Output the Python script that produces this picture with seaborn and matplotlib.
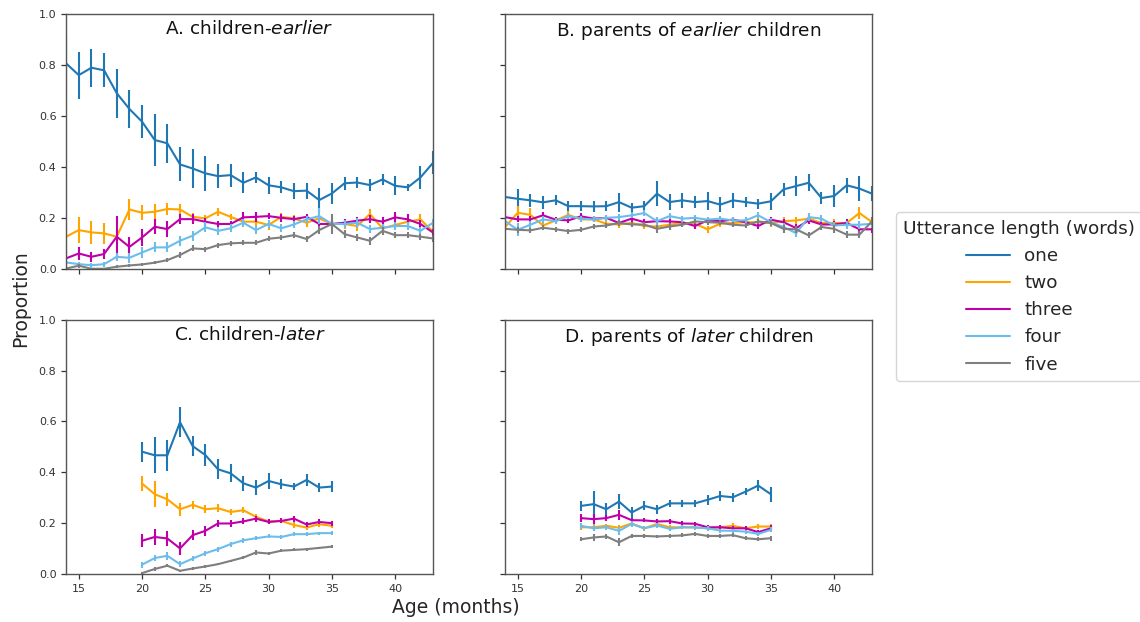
import numpy as np
import pandas as pd
import matplotlib
matplotlib.use("Agg")
import matplotlib.pyplot as plt
from matplotlib.lines import Line2D
import seaborn as sns

# ---- data -------------------------------------------------------------
lengths = ["one", "two", "three", "four", "five"]
palette = {"one": "#1f77b4", "two": "#ffa500", "three": "#bf00a8",
           "four": "#6cbdec", "five": "#7f7f7f"}

ages_early = list(range(14, 44))   # panels A and B
ages_late = list(range(20, 36))    # panels C and D

# A. children-earlier
a_one = [0.807, 0.761, 0.790, 0.780, 0.690, 0.628, 0.578, 0.506, 0.493, 0.410,
         0.394, 0.375, 0.364, 0.368, 0.338, 0.359, 0.328, 0.320, 0.305, 0.307,
         0.270, 0.296, 0.336, 0.339, 0.329, 0.351, 0.326, 0.320, 0.359, 0.417]
a_one_err = [0.105, 0.092, 0.075, 0.067, 0.096, 0.075, 0.064, 0.104, 0.077, 0.067,
             0.075, 0.069, 0.047, 0.045, 0.042, 0.023, 0.033, 0.023, 0.031, 0.031,
             0.046, 0.041, 0.026, 0.023, 0.023, 0.023, 0.038, 0.013, 0.046, 0.045]
a_two = [0.126, 0.152, 0.143, 0.139, 0.126, 0.233, 0.220, 0.224, 0.235, 0.233,
         0.204, 0.198, 0.224, 0.204, 0.185, 0.185, 0.172, 0.204, 0.198, 0.181,
         0.198, 0.176, 0.176, 0.168, 0.215, 0.159, 0.172, 0.185, 0.194, 0.145]
a_two_err = [0.070, 0.050, 0.045, 0.040, 0.015, 0.040, 0.030, 0.030, 0.022, 0.020,
             0.015, 0.012, 0.015, 0.012, 0.012, 0.015, 0.020, 0.015, 0.015, 0.015,
             0.012, 0.015, 0.020, 0.020, 0.020, 0.020, 0.020, 0.015, 0.020, 0.020]
a_three = [0.041, 0.060, 0.047, 0.058, 0.126, 0.086, 0.123, 0.165, 0.156, 0.195,
           0.195, 0.185, 0.176, 0.176, 0.202, 0.204, 0.207, 0.200, 0.195, 0.204,
           0.176, 0.176, 0.181, 0.189, 0.195, 0.185, 0.202, 0.194, 0.176, 0.142]
a_three_err = [0.030, 0.025, 0.020, 0.020, 0.080, 0.040, 0.035, 0.030, 0.030, 0.020,
               0.020, 0.015, 0.012, 0.012, 0.020, 0.020, 0.012, 0.015, 0.012, 0.012,
               0.010, 0.012, 0.015, 0.015, 0.015, 0.020, 0.020, 0.020, 0.015, 0.015]
a_four = [0.025, 0.018, 0.014, 0.018, 0.047, 0.043, 0.064, 0.084, 0.084, 0.110,
          0.130, 0.163, 0.149, 0.159, 0.181, 0.152, 0.176, 0.159, 0.174, 0.194,
          0.207, 0.176, 0.176, 0.181, 0.156, 0.161, 0.168, 0.168, 0.149, 0.181]
a_four_err = [0.012, 0.010, 0.010, 0.010, 0.015, 0.020, 0.020, 0.020, 0.020, 0.020,
              0.020, 0.020, 0.015, 0.015, 0.015, 0.015, 0.015, 0.015, 0.015, 0.015,
              0.030, 0.020, 0.015, 0.020, 0.015, 0.015, 0.015, 0.015, 0.015, 0.015]
a_five = [0.001, 0.012, 0.000, 0.000, 0.008, 0.013, 0.017, 0.024, 0.034, 0.054,
          0.080, 0.077, 0.093, 0.100, 0.102, 0.102, 0.118, 0.123, 0.132, 0.117,
          0.152, 0.176, 0.136, 0.123, 0.110, 0.149, 0.132, 0.132, 0.126, 0.119]
a_five_err = [0.005, 0.008, 0.004, 0.004, 0.005, 0.006, 0.006, 0.007, 0.008, 0.010,
              0.012, 0.010, 0.010, 0.010, 0.010, 0.010, 0.010, 0.010, 0.012, 0.010,
              0.015, 0.040, 0.015, 0.012, 0.015, 0.015, 0.012, 0.012, 0.012, 0.012]

# B. parents of earlier children
b_one = [0.282, 0.275, 0.269, 0.261, 0.269, 0.246, 0.246, 0.245, 0.246, 0.262,
         0.240, 0.246, 0.295, 0.262, 0.269, 0.262, 0.266, 0.252, 0.269, 0.262,
         0.256, 0.265, 0.312, 0.325, 0.338, 0.278, 0.286, 0.328, 0.315, 0.295]
b_one_err = [0.030, 0.037, 0.025, 0.025, 0.020, 0.020, 0.020, 0.020, 0.020, 0.037,
             0.020, 0.020, 0.050, 0.030, 0.030, 0.025, 0.034, 0.030, 0.030, 0.020,
             0.020, 0.034, 0.025, 0.040, 0.033, 0.025, 0.043, 0.030, 0.050, 0.030]
b_two = [0.164, 0.220, 0.212, 0.170, 0.190, 0.212, 0.194, 0.194, 0.177, 0.174,
         0.180, 0.168, 0.166, 0.173, 0.180, 0.177, 0.155, 0.177, 0.180, 0.183,
         0.183, 0.180, 0.187, 0.190, 0.197, 0.180, 0.180, 0.180, 0.219, 0.183]
b_two_err = [0.025, 0.025, 0.025, 0.015, 0.015, 0.015, 0.012, 0.012, 0.012, 0.015,
             0.012, 0.012, 0.012, 0.012, 0.012, 0.012, 0.015, 0.012, 0.015, 0.012,
             0.015, 0.015, 0.015, 0.015, 0.015, 0.015, 0.015, 0.015, 0.025, 0.020]
b_three = [0.203, 0.194, 0.194, 0.210, 0.193, 0.190, 0.206, 0.197, 0.200, 0.180,
           0.197, 0.183, 0.187, 0.186, 0.183, 0.168, 0.190, 0.187, 0.193, 0.183,
           0.168, 0.193, 0.183, 0.160, 0.190, 0.174, 0.174, 0.180, 0.155, 0.155]
b_three_err = [0.015, 0.012, 0.012, 0.012, 0.012, 0.012, 0.012, 0.012, 0.012, 0.012,
               0.012, 0.012, 0.015, 0.012, 0.012, 0.012, 0.012, 0.012, 0.012, 0.012,
               0.012, 0.012, 0.012, 0.015, 0.015, 0.012, 0.012, 0.015, 0.015, 0.015]
b_four = [0.187, 0.153, 0.173, 0.194, 0.187, 0.206, 0.197, 0.194, 0.200, 0.203,
          0.210, 0.219, 0.187, 0.207, 0.197, 0.200, 0.193, 0.197, 0.190, 0.190,
          0.210, 0.183, 0.164, 0.140, 0.203, 0.197, 0.170, 0.173, 0.173, 0.177]
b_four_err = [0.020, 0.025, 0.015, 0.015, 0.012, 0.012, 0.012, 0.012, 0.012, 0.012,
              0.012, 0.012, 0.015, 0.012, 0.012, 0.012, 0.012, 0.012, 0.012, 0.012,
              0.012, 0.015, 0.015, 0.015, 0.015, 0.015, 0.015, 0.015, 0.015, 0.015]
b_five = [0.157, 0.153, 0.151, 0.161, 0.155, 0.148, 0.153, 0.166, 0.170, 0.180,
          0.174, 0.174, 0.157, 0.166, 0.173, 0.186, 0.183, 0.181, 0.173, 0.170,
          0.186, 0.180, 0.157, 0.155, 0.131, 0.164, 0.157, 0.134, 0.134, 0.187]
b_five_err = [0.010, 0.012, 0.010, 0.010, 0.010, 0.010, 0.010, 0.010, 0.010, 0.012,
              0.010, 0.010, 0.015, 0.012, 0.010, 0.010, 0.010, 0.010, 0.010, 0.010,
              0.010, 0.012, 0.015, 0.015, 0.012, 0.012, 0.015, 0.015, 0.015, 0.015]

# C. children-later
c_one = [0.481, 0.467, 0.467, 0.597, 0.503, 0.468, 0.412, 0.396,
         0.357, 0.340, 0.366, 0.353, 0.344, 0.370, 0.340, 0.344]
c_one_err = [0.040, 0.070, 0.060, 0.060, 0.040, 0.045, 0.040, 0.035,
             0.030, 0.030, 0.030, 0.020, 0.015, 0.025, 0.018, 0.022]
c_two = [0.356, 0.314, 0.294, 0.255, 0.272, 0.255, 0.259, 0.244,
         0.251, 0.225, 0.207, 0.209, 0.193, 0.183, 0.196, 0.190]
c_two_err = [0.030, 0.050, 0.025, 0.025, 0.015, 0.015, 0.015, 0.012,
             0.012, 0.010, 0.010, 0.010, 0.012, 0.010, 0.012, 0.010]
c_three = [0.131, 0.146, 0.140, 0.101, 0.153, 0.170, 0.199, 0.199,
           0.207, 0.218, 0.205, 0.209, 0.218, 0.195, 0.205, 0.200]
c_three_err = [0.025, 0.030, 0.030, 0.025, 0.020, 0.020, 0.015, 0.015,
               0.012, 0.012, 0.010, 0.010, 0.012, 0.010, 0.010, 0.010]
c_four = [0.037, 0.063, 0.072, 0.039, 0.061, 0.082, 0.098, 0.118,
          0.133, 0.141, 0.148, 0.146, 0.157, 0.157, 0.161, 0.161]
c_four_err = [0.012, 0.012, 0.015, 0.012, 0.010, 0.010, 0.010, 0.010,
              0.010, 0.008, 0.008, 0.008, 0.007, 0.007, 0.006, 0.007]
c_five = [0.004, 0.020, 0.033, 0.013, 0.022, 0.030, 0.039, 0.052,
          0.065, 0.085, 0.081, 0.092, 0.095, 0.098, 0.103, 0.108]
c_five_err = [0.005, 0.006, 0.007, 0.005, 0.005, 0.005, 0.005, 0.005,
              0.005, 0.008, 0.006, 0.006, 0.006, 0.006, 0.005, 0.005]

# D. parents of later children
d_one = [0.268, 0.275, 0.255, 0.285, 0.242, 0.268, 0.255, 0.278,
         0.278, 0.278, 0.292, 0.307, 0.302, 0.324, 0.348, 0.314]
d_one_err = [0.020, 0.050, 0.025, 0.030, 0.022, 0.018, 0.018, 0.015,
             0.015, 0.015, 0.020, 0.018, 0.018, 0.015, 0.020, 0.030]
d_two = [0.184, 0.184, 0.190, 0.182, 0.199, 0.180, 0.197, 0.184,
         0.184, 0.184, 0.180, 0.184, 0.190, 0.180, 0.187, 0.187]
d_two_err = [0.010, 0.015, 0.008, 0.012, 0.008, 0.010, 0.008, 0.008,
             0.007, 0.007, 0.008, 0.008, 0.010, 0.008, 0.008, 0.010]
d_three = [0.220, 0.216, 0.220, 0.233, 0.212, 0.211, 0.207, 0.208,
           0.199, 0.198, 0.184, 0.184, 0.180, 0.180, 0.165, 0.180]
d_three_err = [0.015, 0.020, 0.012, 0.020, 0.010, 0.008, 0.008, 0.010,
               0.008, 0.008, 0.010, 0.008, 0.008, 0.008, 0.010, 0.012]
d_four = [0.190, 0.180, 0.184, 0.170, 0.197, 0.180, 0.191, 0.178,
          0.184, 0.183, 0.180, 0.171, 0.170, 0.167, 0.158, 0.174]
d_four_err = [0.012, 0.012, 0.010, 0.015, 0.010, 0.008, 0.008, 0.008,
              0.008, 0.008, 0.010, 0.008, 0.008, 0.008, 0.008, 0.010]
d_five = [0.137, 0.144, 0.148, 0.125, 0.150, 0.150, 0.148, 0.150,
          0.152, 0.158, 0.150, 0.150, 0.153, 0.141, 0.137, 0.141]
d_five_err = [0.008, 0.012, 0.010, 0.015, 0.008, 0.007, 0.007, 0.007,
              0.008, 0.008, 0.008, 0.007, 0.008, 0.007, 0.008, 0.010]

panels = [
    (r"A. children-$\mathit{earlier}$", ages_early,
     [a_one, a_two, a_three, a_four, a_five],
     [a_one_err, a_two_err, a_three_err, a_four_err, a_five_err]),
    (r"B. parents of $\mathit{earlier}$ children", ages_early,
     [b_one, b_two, b_three, b_four, b_five],
     [b_one_err, b_two_err, b_three_err, b_four_err, b_five_err]),
    (r"C. children-$\mathit{later}$", ages_late,
     [c_one, c_two, c_three, c_four, c_five],
     [c_one_err, c_two_err, c_three_err, c_four_err, c_five_err]),
    (r"D. parents of $\mathit{later}$ children", ages_late,
     [d_one, d_two, d_three, d_four, d_five],
     [d_one_err, d_two_err, d_three_err, d_four_err, d_five_err]),
]

# ---- figure -----------------------------------------------------------
sns.set_style("ticks")
plt.rcParams["font.family"] = ["DejaVu Sans"]
plt.rcParams["mathtext.fontset"] = "dejavusans"

fig, axes = plt.subplots(2, 2, figsize=(11.4, 6.22), dpi=100,
                         sharex=True, sharey=True)
fig.subplots_adjust(left=0.058, right=0.765, top=0.977, bottom=0.077,
                    wspace=0.196, hspace=0.2)

for ax, (title, ages, series, errs) in zip(axes.flat, panels):
    rows = []
    for name, vals, ev in zip(lengths, series, errs):
        for a, v, e in zip(ages, vals, ev):
            rows.append({"age": a, "prop": v, "err": e, "length": name})
    df = pd.DataFrame(rows)

    sns.lineplot(data=df, x="age", y="prop", hue="length",
                 hue_order=lengths, palette=palette, linewidth=1.5,
                 legend=False, ax=ax)
    for name in lengths:
        sub = df[df["length"] == name]
        ax.errorbar(sub["age"], sub["prop"], yerr=sub["err"], fmt="none",
                    ecolor=palette[name], elinewidth=1.5, capsize=0)

    ax.text(0.5, 0.977, title, transform=ax.transAxes, ha="center",
            va="top", fontsize=13.3, color="#111111")
    ax.set_xlabel("")
    ax.set_ylabel("")
    for sp in ax.spines.values():
        sp.set_visible(True)
        sp.set_color("#555555")
        sp.set_linewidth(1.0)
    ax.tick_params(axis="both", labelsize=8, colors="#333333",
                   length=3.5, width=0.9, direction="out")

axes[0, 0].set_xlim(14, 43)
axes[0, 0].set_ylim(0, 1.0)
axes[0, 0].set_xticks([15, 20, 25, 30, 35, 40])
axes[0, 0].set_yticks([0.0, 0.2, 0.4, 0.6, 0.8, 1.0])
axes[0, 0].yaxis.set_major_formatter(matplotlib.ticker.FormatStrFormatter("%.1f"))

fig.text(0.018, 0.52, "Proportion", rotation=90, ha="center", va="center",
         fontsize=13.5)
fig.text(0.4, 0.024, "Age (months)", ha="center", va="center", fontsize=13.5)

handles = [Line2D([0], [0], color=palette[n], lw=1.5) for n in lengths]
leg = fig.legend(handles, lengths, title="Utterance length (words)",
                 loc="center left", bbox_to_anchor=(0.778, 0.523),
                 fontsize=13.2, title_fontsize=13.3, frameon=True,
                 handlelength=2.4, labelspacing=0.5)
leg.get_frame().set_edgecolor("#cccccc")

fig.savefig("out.png", dpi=100)
